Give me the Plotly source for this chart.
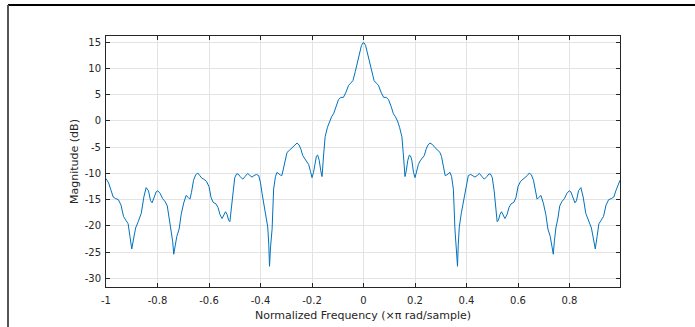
import plotly.graph_objects as go

freq_left = [-1.000, -0.990, -0.980, -0.972, -0.962, -0.952, -0.942, -0.932, -0.922, -0.914,
             -0.907, -0.900, -0.893, -0.885, -0.875, -0.863, -0.853, -0.844, -0.835, -0.827,
             -0.821, -0.813, -0.805, -0.799, -0.790, -0.780, -0.770, -0.762, -0.755, -0.747,
             -0.741, -0.737, -0.732, -0.725, -0.716, -0.708, -0.698, -0.689, -0.680, -0.674,
             -0.668, -0.660, -0.652, -0.644, -0.636, -0.628, -0.620, -0.610, -0.600, -0.592,
             -0.584, -0.573, -0.565, -0.557, -0.549, -0.542, -0.536, -0.530, -0.524, -0.519,
             -0.513, -0.507, -0.500, -0.493, -0.487, -0.479, -0.469, -0.460, -0.450, -0.441,
             -0.433, -0.425, -0.416, -0.407, -0.400, -0.394, -0.388, -0.380, -0.372, -0.368,
             -0.365, -0.361, -0.355, -0.349, -0.342, -0.336, -0.330, -0.323, -0.317, -0.310,
             -0.303, -0.297, -0.288, -0.278, -0.268, -0.258, -0.250, -0.243, -0.236, -0.228,
             -0.220, -0.213, -0.206, -0.200, -0.194, -0.188, -0.183, -0.178, -0.172, -0.166,
             -0.161, -0.155, -0.149, -0.140, -0.132, -0.124, -0.116, -0.107, -0.097, -0.088,
             -0.078, -0.068, -0.058, -0.050, -0.041, -0.032, -0.023, -0.015, -0.008, -0.002,
             0.000]
mag_left = [-11.0, -11.8, -13.3, -14.5, -14.8, -15.0, -16.0, -18.2, -19.0, -19.6,
            -22.0, -24.4, -22.5, -20.4, -19.2, -17.6, -14.5, -12.7, -13.3, -15.2,
            -15.6, -14.5, -13.5, -13.3, -13.8, -14.8, -15.4, -16.2, -18.5, -20.4,
            -23.0, -25.4, -24.0, -22.0, -20.6, -17.8, -15.6, -14.2, -14.6, -14.9,
            -13.6, -11.3, -10.3, -9.9, -10.4, -10.9, -11.1, -11.5, -12.5, -14.6,
            -15.5, -15.8, -16.5, -17.9, -18.6, -17.8, -17.3, -17.8, -18.9, -19.2,
            -16.5, -13.2, -10.8, -10.1, -10.1, -10.6, -11.1, -10.6, -10.0, -10.4,
            -10.7, -10.4, -10.2, -10.4, -11.8, -13.8, -15.4, -17.5, -20.2, -23.5,
            -27.7, -24.0, -20.6, -13.0, -10.6, -9.8, -10.1, -10.3, -10.4, -8.8,
            -6.8, -6.0, -5.6, -5.1, -4.5, -4.2, -4.6, -5.4, -6.6, -7.2,
            -7.6, -8.3, -9.6, -10.8, -9.8, -7.6, -6.7, -6.5, -7.5, -9.5,
            -10.6, -6.5, -3.0, -1.2, 0.0, 0.8, 1.4, 2.8, 4.1, 4.5,
            4.5, 5.5, 6.8, 7.2, 7.7, 9.4, 11.4, 13.0, 14.4, 14.9,
            14.9]

freq_right = [0.002, 0.008, 0.015, 0.023, 0.032, 0.041, 0.050, 0.058, 0.068, 0.078,
              0.088, 0.097, 0.107, 0.116, 0.124, 0.132, 0.140, 0.149, 0.155, 0.161,
              0.166, 0.172, 0.178, 0.183, 0.188, 0.194, 0.200, 0.206, 0.213, 0.220,
              0.228, 0.236, 0.243, 0.250, 0.258, 0.268, 0.278, 0.288, 0.297, 0.303,
              0.310, 0.317, 0.323, 0.330, 0.336, 0.342, 0.349, 0.355, 0.361, 0.365,
              0.368, 0.372, 0.380, 0.388, 0.394, 0.400, 0.407, 0.416, 0.425, 0.433,
              0.441, 0.450, 0.460, 0.469, 0.479, 0.487, 0.493, 0.500, 0.507, 0.513,
              0.519, 0.524, 0.530, 0.536, 0.542, 0.549, 0.557, 0.565, 0.573, 0.584,
              0.592, 0.600, 0.610, 0.620, 0.628, 0.636, 0.644, 0.652, 0.660, 0.668,
              0.674, 0.680, 0.689, 0.698, 0.708, 0.716, 0.725, 0.732, 0.737, 0.741,
              0.747, 0.755, 0.762, 0.770, 0.780, 0.790, 0.799, 0.805, 0.813, 0.821,
              0.827, 0.835, 0.844, 0.853, 0.863, 0.875, 0.885, 0.893, 0.900, 0.907,
              0.914, 0.922, 0.932, 0.942, 0.952, 0.962, 0.972, 0.980, 0.990, 0.996]
mag_right = [14.9, 14.4, 13.0, 11.4, 9.4, 7.7, 7.2, 6.8, 5.5, 4.5,
             4.5, 4.1, 2.8, 1.4, 0.8, 0.0, -1.2, -3.0, -6.5, -10.6,
             -9.5, -7.5, -6.5, -6.7, -7.6, -9.8, -10.8, -9.6, -8.3, -7.6,
             -7.2, -6.6, -5.4, -4.6, -4.2, -4.5, -5.1, -5.6, -6.0, -6.8,
             -8.8, -10.4, -10.3, -10.1, -9.8, -10.6, -13.0, -20.6, -24.0, -27.7,
             -23.5, -20.2, -17.5, -15.4, -13.8, -11.8, -10.4, -10.2, -10.4, -10.7,
             -10.4, -10.0, -10.6, -11.1, -10.6, -10.1, -10.1, -10.8, -13.2, -16.5,
             -19.2, -18.9, -17.8, -17.3, -17.8, -18.6, -17.9, -16.5, -15.8, -15.5,
             -14.6, -12.5, -11.5, -11.1, -10.9, -10.4, -9.9, -10.3, -11.3, -13.6,
             -14.9, -14.6, -14.2, -15.6, -17.8, -20.6, -22.0, -24.0, -25.4, -23.0,
             -20.4, -18.5, -16.2, -15.4, -14.8, -13.8, -13.3, -13.5, -14.5, -15.6,
             -15.2, -13.3, -12.7, -14.5, -17.6, -19.2, -20.4, -22.5, -24.4, -22.0,
             -19.6, -19.0, -18.2, -16.0, -15.0, -14.8, -14.5, -13.3, -11.8, -11.3]

freq = freq_left + freq_right
mag = mag_left + mag_right

x_ticks = [-1, -0.8, -0.6, -0.4, -0.2, 0, 0.2, 0.4, 0.6, 0.8]
x_tick_labels = ["-1", "-0.8", "-0.6", "-0.4", "-0.2", "0", "0.2", "0.4", "0.6", "0.8"]
y_ticks = [-30, -25, -20, -15, -10, -5, 0, 5, 10, 15]
y_tick_labels = ["-30", "-25", "-20", "-15", "-10", "-5", "0", "5", "10", "15"]

W, H = 695, 327
L, R, T, B = 106, 620, 36, 287
FONT = "DejaVu Sans"

fig = go.Figure()
fig.add_trace(go.Scatter(x=freq, y=mag, mode="lines",
                         line=dict(color="#0072BD", width=1), hoverinfo="skip"))

axis_common = dict(showline=True, linecolor="#262626", linewidth=1, mirror="ticks",
                   ticks="inside", ticklen=4, tickcolor="#262626", automargin=False,
                   showgrid=True, gridcolor="#e3e3e3", gridwidth=1, zeroline=False,
                   tickfont=dict(family=FONT, size=10, color="#262626"))

fig.update_layout(
    width=W, height=H,
    margin=dict(l=L, r=W - R, t=T, b=H - B, pad=0),
    paper_bgcolor="white", plot_bgcolor="white",
    showlegend=False,
    xaxis=dict(range=[-1, 0.996], tickvals=x_ticks, ticktext=x_tick_labels,
               ticklabelstandoff=4,
               title=dict(text="Normalized Frequency (\u00d7\u03c0 rad/sample)", standoff=6,
                          font=dict(family=FONT, size=11, color="#262626")),
               **axis_common),
    yaxis=dict(range=[-31.65, 16.2], tickvals=y_ticks, ticktext=y_tick_labels,
               ticklabelstandoff=2,
               title=dict(text="Magnitude (dB)", standoff=3,
                          font=dict(family=FONT, size=11, color="#262626")),
               **axis_common),
)

def px_x(p):
    return (p - L) / (R - L)

def px_y(p):
    return (B - p) / (B - T)

# outer figure frame (top and left edges visible)
fig.add_shape(type="line", xref="paper", yref="paper",
              x0=px_x(8), x1=px_x(700), y0=px_y(5), y1=px_y(5),
              line=dict(color="black", width=2))
fig.add_shape(type="line", xref="paper", yref="paper",
              x0=px_x(8), x1=px_x(8), y0=px_y(5), y1=px_y(330),
              line=dict(color="#555555", width=2))

fig.write_html("out.html")
